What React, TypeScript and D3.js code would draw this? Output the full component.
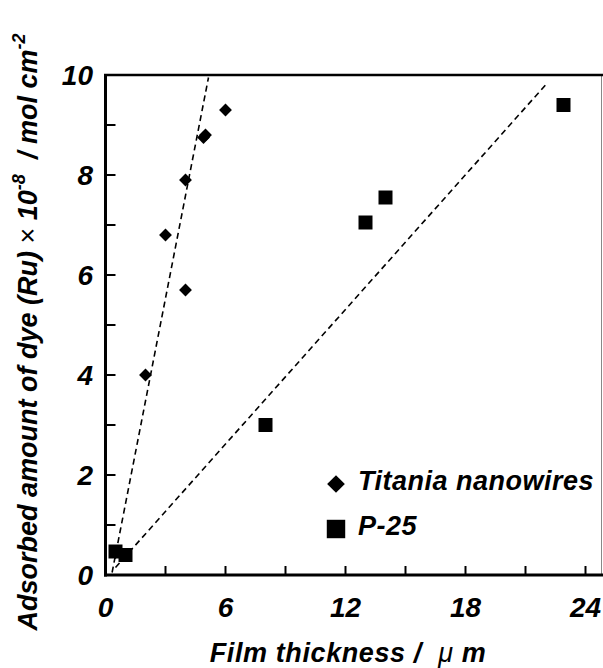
import React, { useEffect, useRef } from 'react';
import * as d3 from 'd3';

// Titania nanowires (diamonds)
const wireThickness = [0.5, 2.0, 3.0, 4.0, 4.0, 4.9, 5.0, 6.0];
const wireAmount = [0.45, 4.0, 6.8, 5.7, 7.9, 8.75, 8.8, 9.3];

// P-25 (squares)
const p25Thickness = [0.5, 1.0, 8.0, 13.0, 14.0, 22.9];
const p25Amount = [0.47, 0.4, 3.0, 7.05, 7.55, 9.4];

// dashed guide lines (start / end in data units)
const wireFitX = [0.33, 5.15];
const wireFitY = [0.05, 9.95];
const p25FitX = [0.5, 22.0];
const p25FitY = [0.15, 9.8];

const xTicks = [3, 6, 9, 12, 15, 18, 21, 24];
const xTickLabels = [0, 6, 12, 18, 24];
const yTicks = [1, 2, 3, 4, 5, 6, 7, 8, 9];
const yTickLabels = [0, 2, 4, 6, 8, 10];

const legendLabels = ['Titania nanowires', 'P-25'];

const FONT = 'Arial, "Liberation Sans", sans-serif';

const App = () => {
  const ref = useRef<SVGSVGElement | null>(null);

  useEffect(() => {
    const width = 603;
    const height = 668;
    const svg = d3.select(ref.current);
    svg.selectAll('*').remove();
    svg.attr('width', width).attr('height', height);

    const x = d3.scaleLinear().domain([0, 24.8]).range([105.5, 601.5]);
    const y = d3.scaleLinear().domain([0, 10]).range([575, 75]);

    const g = svg.append('g').style('font-family', FONT);

    // frame
    g.append('line')
      .attr('x1', x(24.8)).attr('x2', x(24.8))
      .attr('y1', y(10)).attr('y2', y(0))
      .attr('stroke', '#888').attr('stroke-width', 1);
    g.append('line')
      .attr('x1', x(0) - 1.5).attr('x2', width)
      .attr('y1', y(10)).attr('y2', y(10))
      .attr('stroke', '#000').attr('stroke-width', 2.5);
    g.append('line')
      .attr('x1', x(0)).attr('x2', x(0))
      .attr('y1', y(10)).attr('y2', y(0) + 1.5)
      .attr('stroke', '#000').attr('stroke-width', 3);
    g.append('line')
      .attr('x1', x(0) - 1.5).attr('x2', width)
      .attr('y1', y(0)).attr('y2', y(0))
      .attr('stroke', '#000').attr('stroke-width', 3);

    // ticks (inward)
    g.append('g').selectAll('line')
      .data(xTicks)
      .enter()
      .append('line')
      .attr('x1', d => x(d)).attr('x2', d => x(d))
      .attr('y1', y(0)).attr('y2', y(0) - 9)
      .attr('stroke', '#000').attr('stroke-width', 2);
    g.append('g').selectAll('line')
      .data(yTicks)
      .enter()
      .append('line')
      .attr('x1', x(0)).attr('x2', x(0) + 10)
      .attr('y1', d => y(d)).attr('y2', d => y(d))
      .attr('stroke', '#000').attr('stroke-width', 2);

    // tick labels
    g.append('g').selectAll('text')
      .data(xTickLabels)
      .enter()
      .append('text')
      .attr('x', d => x(d))
      .attr('y', 617)
      .attr('text-anchor', 'middle')
      .style('font-size', '28px')
      .style('font-weight', 'bold')
      .style('font-style', 'italic')
      .text(d => d);
    g.append('g').selectAll('text')
      .data(yTickLabels)
      .enter()
      .append('text')
      .attr('x', 93)
      .attr('y', d => y(d) + 10)
      .attr('text-anchor', 'end')
      .style('font-size', '28px')
      .style('font-weight', 'bold')
      .style('font-style', 'italic')
      .text(d => d);

    // axis titles
    const xt = g.append('text')
      .attr('x', 348)
      .attr('y', 662)
      .attr('text-anchor', 'middle')
      .style('font-size', '27px')
      .style('font-weight', 'bold')
      .style('font-style', 'italic')
      .style('letter-spacing', '0.6px')
      .attr('xml:space', 'preserve');
    xt.append('tspan').text('Film thickness /  ');
    xt.append('tspan').style('font-weight', 'normal').text('\u03bc');
    xt.append('tspan').text(' m');

    const yt = g.append('text')
      .attr('transform', 'translate(37,332) rotate(-90)')
      .attr('text-anchor', 'middle')
      .style('font-size', '27px')
      .style('font-weight', 'bold')
      .style('font-style', 'italic')
      .attr('xml:space', 'preserve');
    yt.append('tspan').text('Adsorbed amount of dye (Ru)');
    yt.append('tspan').style('font-style', 'normal').style('font-weight', 'normal').text(' \u00d7 ');
    yt.append('tspan').text('10');
    yt.append('tspan').attr('dy', -12).style('font-size', '18px').text('-8');
    yt.append('tspan').attr('dy', 12).text('\u00a0\u00a0/ mol cm');
    yt.append('tspan').attr('dy', -12).style('font-size', '18px').text('-2');

    // fit lines
    const line = d3.line<[number, number]>().x(d => x(d[0])).y(d => y(d[1]));
    const fits: [number, number][][] = [
      d3.zip(wireFitX, wireFitY) as [number, number][],
      d3.zip(p25FitX, p25FitY) as [number, number][],
    ];
    g.append('g').selectAll('path')
      .data(fits)
      .enter()
      .append('path')
      .attr('d', d => line(d))
      .attr('fill', 'none')
      .attr('stroke', '#000')
      .attr('stroke-width', 1.6)
      .attr('stroke-dasharray', '6,4');

    // points
    const diamond = d3.symbol().type(d3.symbolDiamond2).size(105);
    const square = d3.symbol().type(d3.symbolSquare).size(196);

    g.append('g').selectAll('path')
      .data(d3.zip(p25Thickness, p25Amount))
      .enter()
      .append('path')
      .attr('d', square)
      .attr('transform', d => `translate(${x(d[0])},${y(d[1])})`)
      .attr('fill', '#000');

    g.append('g').selectAll('path')
      .data(d3.zip(wireThickness, wireAmount))
      .enter()
      .append('path')
      .attr('d', diamond)
      .attr('transform', d => `translate(${x(d[0])},${y(d[1])})`)
      .attr('fill', '#000');

    // legend
    const legendSymbols = [
      d3.symbol().type(d3.symbolDiamond2).size(200),
      d3.symbol().type(d3.symbolSquare).size(340),
    ];
    const legend = g.append('g');
    const items = legend.selectAll('g')
      .data(legendLabels)
      .enter()
      .append('g')
      .attr('transform', (d, i) => `translate(336,${484 + i * 45})`);
    items.append('path')
      .attr('d', (d, i) => legendSymbols[i]())
      .attr('fill', '#000');
    items.append('text')
      .attr('x', 22)
      .attr('y', 6)
      .style('font-size', '27px')
      .style('font-weight', 'bold')
      .style('font-style', 'italic')
      .style('letter-spacing', '0.5px')
      .text(d => d);
  }, []);

  return (
    <svg
      ref={ref}
      style={{ position: 'absolute', left: 0, top: 0, background: '#fff' }}
    />
  );
};

export default App;
